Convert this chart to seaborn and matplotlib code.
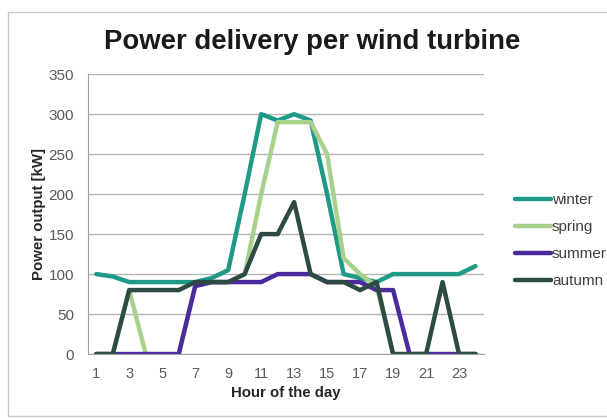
import numpy as np
import pandas as pd
import seaborn as sns
import matplotlib.pyplot as plt
from matplotlib.patches import Rectangle

# Dados (kW por hora)
hours = list(range(1, 25))
winter = [100, 97, 90, 90, 90, 90, 90, 95, 105, 200, 300, 292,
          300, 292, 200, 100, 95, 90, 100, 100, 100, 100, 100, 110]
spring = [0, 0, 80, 0, 0, 0, 85, 90, 90, 100, 200, 290,
          290, 290, 250, 120, 100, 85, 0, 0, 0, 0, 0, 0]
summer = [0, 0, 0, 0, 0, 0, 85, 90, 90, 90, 90, 100,
          100, 100, 90, 90, 90, 80, 80, 0, 0, 0, 0, 0]
autumn = [0, 0, 80, 80, 80, 80, 90, 90, 90, 100, 150, 150,
          190, 100, 90, 90, 80, 90, 0, 0, 0, 90, 0, 0]

seasons = ["winter", "spring", "summer", "autumn"]
colors = ["#1f9a88", "#a9d18e", "#4b2a9c", "#2d4a44"]
y_ticks = [0, 50, 100, 150, 200, 250, 300, 350]
x_labels = [1, 3, 5, 7, 9, 11, 13, 15, 17, 19, 21, 23]

df = pd.DataFrame({"hour": hours, "winter": winter, "spring": spring,
                   "summer": summer, "autumn": autumn})
df = df.melt(id_vars="hour", var_name="season", value_name="power")

sns.set_style("white")
plt.rcParams["font.family"] = ["Liberation Sans", "DejaVu Sans"]

fig = plt.figure(figsize=(6.07, 4.19), dpi=100)
ax = fig.add_axes([0.145, 0.155, 0.652, 0.668])

sns.lineplot(data=df, x="hour", y="power", hue="season", hue_order=seasons,
             palette=dict(zip(seasons, colors)), linewidth=3.2, ax=ax)

ax.set_xlim(0.5, 24.5)
ax.set_ylim(0, 350)
ax.set_yticks(y_ticks)
ax.set_xticks(x_labels)
ax.set_xticks(np.arange(0.5, 25, 1), minor=True)
ax.tick_params(axis="x", which="major", length=0, labelsize=10.5,
               colors="#595959", pad=9)
ax.tick_params(axis="x", which="minor", length=4, color="#a0a0a0",
               direction="out")
ax.tick_params(axis="y", length=4, color="#a0a0a0", labelsize=11,
               labelcolor="#595959", direction="out", pad=6)
ax.yaxis.grid(True, color="#b4b4b4", linewidth=1.0)
ax.set_axisbelow(True)
for s in ["top", "right"]:
    ax.spines[s].set_visible(False)
for s in ["left", "bottom"]:
    ax.spines[s].set_color("#a0a0a0")

ax.set_xlabel("Hour of the day", fontsize=10.8, fontweight="bold",
              color="#262626", labelpad=4)
ax.set_ylabel("Power output [kW]", fontsize=10.8, fontweight="bold",
              color="#262626", labelpad=2)

fig.text(0.515, 0.9, "Power delivery per wind turbine", ha="center",
         va="center", fontsize=19.8, fontweight="bold", color="#1a1a1a")

leg = ax.legend(loc="center left", bbox_to_anchor=(1.043, 0.405), frameon=False,
                fontsize=11, handlelength=2.4, handletextpad=0.05,
                labelspacing=0.85)
for t in leg.get_texts():
    t.set_color("#404040")

fig.add_artist(Rectangle((0.013, 0.007), 1.2, 0.964, transform=fig.transFigure,
                         fill=False, edgecolor="#c8c8c8", linewidth=1.0))

fig.savefig("out.png", dpi=100)
